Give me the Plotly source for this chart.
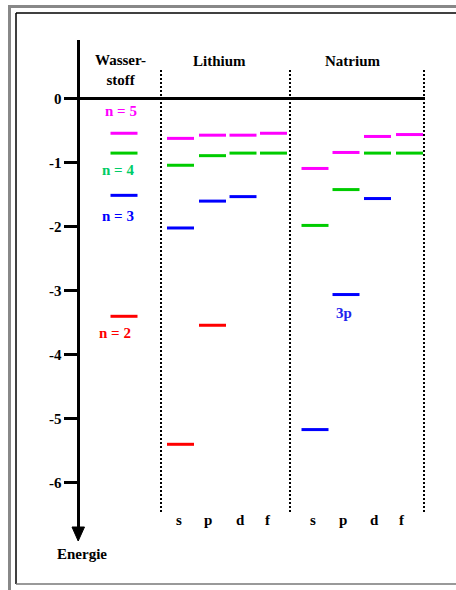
import plotly.graph_objects as go

# ---------------- data (energies in eV) ----------------
tick_vals = [0, -1, -2, -3, -4, -5, -6]
tick_text = ["0", "-1", "-2", "-3", "-4", "-5", "-6"]

h_labels = ["n = 2", "n = 3", "n = 4", "n = 5"]
h_energy = [-3.40, -1.51, -0.85, -0.54]
h_colors = ["red", "blue", "green", "magenta"]

li_s = [-5.40, -2.02, -1.04, -0.62]
li_s_col = ["red", "blue", "green", "magenta"]
li_p = [-3.54, -1.60, -0.89, -0.57]
li_p_col = ["red", "blue", "green", "magenta"]
li_d = [-1.53, -0.85, -0.57]
li_d_col = ["blue", "green", "magenta"]
li_f = [-0.85, -0.54]
li_f_col = ["green", "magenta"]

na_s = [-5.17, -1.98, -1.09]
na_s_col = ["blue", "green", "magenta"]
na_p = [-3.06, -1.42, -0.84]
na_p_col = ["blue", "green", "magenta"]
na_d = [-1.56, -0.85, -0.59]
na_d_col = ["blue", "green", "magenta"]
na_f = [-0.85, -0.56]
na_f_col = ["green", "magenta"]

orbitals = ["s", "p", "d", "f"]

# ---------------- layout constants ----------------
W, H = 456, 590
PX_PER_EV = 64.0
ZERO_PX = 98.7
AX_TOP_PX, AX_BOT_PX = 40, 530
X_LEFT, X_RIGHT = 64, 425
COLORS = {"red": "#FF0000", "blue": "#0000FF", "green": "#00CC00", "magenta": "#FF00FF"}
LABEL_COLORS = {"red": "#FF0000", "blue": "#0000FF", "green": "#00CC66", "magenta": "#FF00FF"}
FONT = "Liberation Serif, Times New Roman, serif"
HALF = 13.5


def px_to_e(py):
    return (ZERO_PX - py) / PX_PER_EV


def px(x):
    return x / W


def py(y):
    return 1 - y / H


columns = [
    (124, h_energy, h_colors),
    (180.5, li_s, li_s_col), (212.5, li_p, li_p_col), (243, li_d, li_d_col), (273.5, li_f, li_f_col),
    (315, na_s, na_s_col), (346, na_p, na_p_col), (377.5, na_d, na_d_col), (409.5, na_f, na_f_col),
]

fig = go.Figure()

# level bars grouped by colour
for cname, ccode in COLORS.items():
    xs, ys = [], []
    for cx, energies, cols in columns:
        for e, c in zip(energies, cols):
            if c == cname:
                xs += [cx - HALF, cx + HALF, None]
                ys += [e, e, None]
    fig.add_trace(go.Scatter(x=xs, y=ys, mode="lines", line=dict(color=ccode, width=3),
                             hoverinfo="skip", showlegend=False))

# dotted separators
for sx in [161, 290, 424]:
    fig.add_trace(go.Scatter(x=[sx, sx], y=[px_to_e(70), px_to_e(512)], mode="lines",
                             line=dict(color="black", width=2, dash="2px,2px"),
                             hoverinfo="skip", showlegend=False))

annotations = []


def txt(x, y, t, color="black", xref="x", yref="y"):
    annotations.append(dict(x=x, y=y, xref=xref, yref=yref, text=t, showarrow=False,
                            font=dict(family=FONT, size=15, color=color, weight="bold"),
                            xanchor="center", yanchor="middle"))


# headers
txt(120, px_to_e(70), "Wasser-<br>stoff")
txt(219, px_to_e(61), "Lithium")
txt(352, px_to_e(61), "Natrium")

# hydrogen labels
h_label_pos = [(115, 333), (118, 216), (118, 170), (120.5, 111)]
for (lx, ly), lab, c in zip(h_label_pos, h_labels, h_colors):
    txt(lx, px_to_e(ly), lab, LABEL_COLORS[c])

txt(344, px_to_e(313), "3p", "#2222EE")

# orbital labels
for cx, lab in zip([179, 208, 240, 268], orbitals):
    txt(cx, px_to_e(520), lab)
for cx, lab in zip([313, 343, 374, 402], orbitals):
    txt(cx, px_to_e(520), lab)

txt(px(82), py(554), "Energie", xref="paper", yref="paper")

shapes = [
    # outer gray frame
    dict(type="rect", xref="paper", yref="paper", x0=px(8), x1=px(470), y0=py(5), y1=py(8),
         fillcolor="#888888", line=dict(width=0), layer="below"),
    dict(type="rect", xref="paper", yref="paper", x0=px(8), x1=px(11), y0=py(5), y1=py(595),
         fillcolor="#888888", line=dict(width=0), layer="below"),
    # inner frame
    dict(type="line", xref="paper", yref="paper", x0=px(16), x1=px(470), y0=py(13), y1=py(13),
         line=dict(color="black", width=1.5)),
    dict(type="line", xref="paper", yref="paper", x0=px(16), x1=px(16), y0=py(13), y1=py(584),
         line=dict(color="black", width=1.5)),
    dict(type="line", xref="paper", yref="paper", x0=px(16), x1=px(470), y0=py(584), y1=py(584),
         line=dict(color="#777777", width=1.5)),
    # arrow head
    dict(type="path", xref="paper", yref="paper",
         path=f"M {px(72)} {py(527)} L {px(84.5)} {py(527)} L {px(78.2)} {py(541)} Z",
         fillcolor="black", line=dict(color="black", width=1)),
]

fig.update_layout(
    width=W, height=H, margin=dict(l=0, r=0, t=0, b=0),
    paper_bgcolor="white", plot_bgcolor="white",
    annotations=annotations, shapes=shapes,
    xaxis=dict(range=[X_LEFT, X_RIGHT], domain=[px(X_LEFT), px(X_RIGHT)], visible=False,
               fixedrange=True),
    yaxis=dict(range=[px_to_e(AX_BOT_PX), px_to_e(AX_TOP_PX)],
               domain=[py(AX_BOT_PX), py(AX_TOP_PX)],
               anchor="free", position=px(78.2), showline=True, linecolor="black", linewidth=2.5,
               ticks="outside", ticklen=13, tickwidth=2.5, tickcolor="black",
               tickvals=tick_vals, ticktext=tick_text, showgrid=False,
               zeroline=True, zerolinecolor="black", zerolinewidth=2.5,
               tickfont=dict(family=FONT, size=15, color="black", weight="bold"),
               fixedrange=True),
    showlegend=False,
)

fig.write_html("out.html", config={"displayModeBar": False},
               post_script="document.body.style.margin='0px';document.body.style.overflow='hidden';")
